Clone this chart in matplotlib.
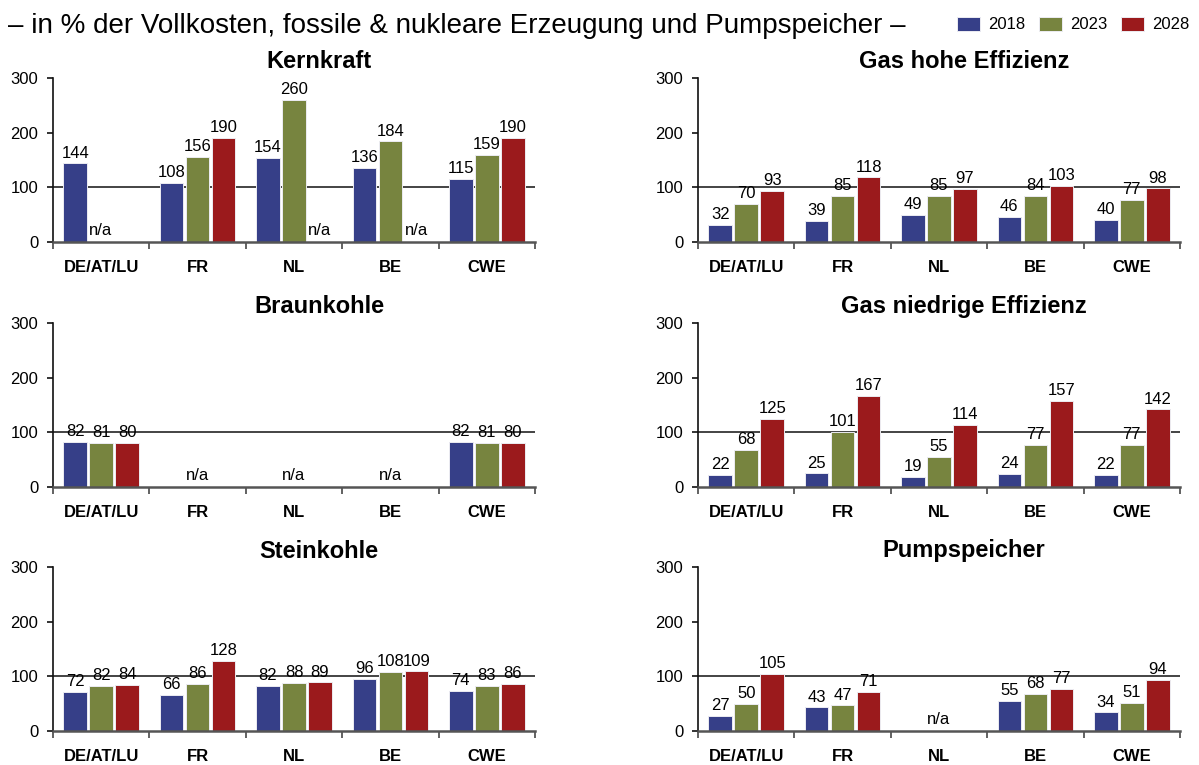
import numpy as np
import matplotlib
matplotlib.use("Agg")
import matplotlib.pyplot as plt
from matplotlib.patches import Patch

plt.rcParams["font.family"] = ["Liberation Sans", "DejaVu Sans"]

regions = ["DE/AT/LU", "FR", "NL", "BE", "CWE"]
years = ["2018", "2023", "2028"]
colors = ["#363f88", "#77843f", "#9b1a1c"]
nan = np.nan

# values per panel: rows = years (2018, 2023, 2028), columns = regions
kernkraft = [[144, 108, 154, 136, 115],
             [nan, 156, 260, 184, 159],
             [nan, 190, nan, nan, 190]]
gas_hoch = [[32, 39, 49, 46, 40],
            [70, 85, 85, 84, 77],
            [93, 118, 97, 103, 98]]
braunkohle = [[82, nan, nan, nan, 82],
              [81, nan, nan, nan, 81],
              [80, nan, nan, nan, 80]]
gas_niedrig = [[22, 25, 19, 24, 22],
               [68, 101, 55, 77, 77],
               [125, 167, 114, 157, 142]]
steinkohle = [[72, 66, 82, 96, 74],
              [82, 86, 88, 108, 83],
              [84, 128, 89, 109, 86]]
pumpspeicher = [[27, 43, nan, 55, 34],
                [50, 47, nan, 68, 51],
                [105, 71, nan, 77, 94]]

# n/a markers: (region index, bar slot) — slot None means centred on the group
kern_na = [(0, 1), (2, 2), (3, 2)]
braun_na = [(1, None), (2, None), (3, None)]
pump_na = [(2, None)]

panels = [
    ("Kernkraft", kernkraft, kern_na),
    ("Gas hohe Effizienz", gas_hoch, []),
    ("Braunkohle", braunkohle, braun_na),
    ("Gas niedrige Effizienz", gas_niedrig, []),
    ("Steinkohle", steinkohle, []),
    ("Pumpspeicher", pumpspeicher, pump_na),
]

W, H = 1199, 765
fig = plt.figure(figsize=(W / 100, H / 100), dpi=100)

lefts = [53, 698]
axw = 482
bottoms = [242, 487, 731]
axh = 164

bar_w = 0.245
step = 0.27
x = np.arange(len(regions))

for i, (title, data, na) in enumerate(panels):
    row, col = divmod(i, 2)
    ax = fig.add_axes([lefts[col] / W, 1 - bottoms[row] / H, axw / W, axh / H])
    ax.set_xlim(-0.5, len(regions) - 0.5)
    ax.set_ylim(0, 300)
    ax.axhline(100, color="#111111", lw=1.1, zorder=1)
    for k, vals in enumerate(data):
        vals = np.array(vals, dtype=float)
        pos = x + (k - 1) * step
        ok = ~np.isnan(vals)
        ax.bar(pos[ok], vals[ok], width=bar_w, color=colors[k],
               edgecolor="#ececf2", linewidth=0.7, zorder=2)
        for p, v in zip(pos[ok], vals[ok]):
            ax.annotate(f"{v:.0f}", (p, v), xytext=(0, 2),
                        textcoords="offset points", ha="center",
                        va="bottom", fontsize=12, zorder=3)
    for r, slot in na:
        if slot is None:
            ax.annotate("n/a", (r, 0), xytext=(0, 3),
                        textcoords="offset points", ha="center",
                        va="bottom", fontsize=12)
        else:
            ax.annotate("n/a", (r + (slot - 1) * step - bar_w / 2, 0),
                        xytext=(0, 3), textcoords="offset points",
                        ha="left", va="bottom", fontsize=12)

    ax.text(0.552, 1.0 + 16 / axh, title, transform=ax.transAxes,
            ha="center", va="center", fontsize=17, fontweight="bold")

    for s in ("top", "right"):
        ax.spines[s].set_visible(False)
    ax.spines["left"].set_color("#111111")
    ax.spines["left"].set_linewidth(1.2)
    ax.spines["bottom"].set_color("#555555")
    ax.spines["bottom"].set_linewidth(1.8)

    ax.set_yticks([0, 100, 200, 300])
    ax.tick_params(axis="y", length=4.5, width=1.2, labelsize=12, pad=6,
                   color="#111111")
    ax.set_xticks(x)
    ax.set_xticklabels(regions, fontsize=12, fontweight="bold")
    ax.tick_params(axis="x", which="major", length=0, pad=13)
    ax.set_xticks(np.arange(-0.5, len(regions)), minor=True)
    ax.tick_params(axis="x", which="minor", length=5, width=1.3,
                   color="#555555")

fig.text(8 / W, 1 - 33 / H,
         "– in % der Vollkosten, fossile & nukleare Erzeugung und Pumpspeicher –",
         ha="left", va="baseline", fontsize=20)

handles = [Patch(facecolor=c, edgecolor="#ececf2", linewidth=0.7) for c in colors]
fig.legend(handles, years, loc="center right",
           bbox_to_anchor=(1189 / W, 1 - 24.5 / H), ncol=3, frameon=False,
           fontsize=12, handlelength=1.38, handleheight=0.95,
           handletextpad=0.46, columnspacing=0.84, borderpad=0,
           borderaxespad=0)

fig.savefig("out.png", dpi=100)
